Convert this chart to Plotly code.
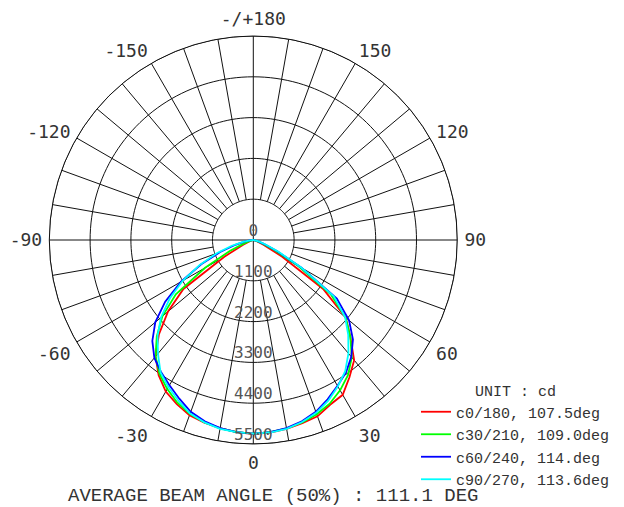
import plotly.graph_objects as go

# ---------------- data ----------------
GAMMA = [-90, -85, -80, -75, -70, -65, -60, -55, -50, -45, -40, -35, -30, -25, -20, -15, -10, -5,
         0, 5, 10, 15, 20, 25, 30, 35, 40, 45, 50, 55, 60, 65, 70, 75, 80, 85, 90]

C0_180 = [0, 0, 0, 30, 100, 300, 900, 2300, 3000, 3600, 4100, 4450, 4720, 4880, 5030, 5100, 5150, 5200,
          5230, 5210, 5170, 5110, 5060, 4900, 4820, 4520, 4230, 3700, 3250, 2300, 900, 300, 100, 30, 0, 0, 0]
C30_210 = [0, 0, 20, 80, 250, 700, 1500, 2550, 3200, 3680, 4100, 4410, 4640, 4840, 4990, 5090, 5160, 5200,
           5220, 5200, 5160, 5090, 5000, 4870, 4680, 4450, 4130, 3700, 3250, 2550, 1400, 600, 200, 60, 15, 0, 0]
C60_240 = [0, 70, 220, 500, 950, 1550, 2250, 2900, 3450, 3850, 4150, 4340, 4520, 4720, 4930, 5060, 5150, 5200,
           5220, 5200, 5150, 5060, 4930, 4740, 4540, 4360, 4110, 3800, 3370, 2750, 1500, 700, 300, 120, 40, 10, 0]
C90_270 = [0, 90, 280, 600, 1050, 1600, 2200, 2750, 3250, 3650, 4000, 4360, 4580, 4780, 4980, 5090, 5170, 5200,
           5220, 5210, 5170, 5080, 4960, 4780, 4560, 4320, 3990, 3620, 3230, 2650, 1500, 750, 350, 150, 50, 10, 0]

SERIES_NAMES = ["c0/180, 107.5deg", "c30/210, 109.0deg", "c60/240, 114.deg", "c90/270, 113.6deg"]
SERIES_VALUES = [C0_180, C30_210, C60_240, C90_270]
SERIES_COLORS = ["#ff0000", "#00ff00", "#0000ff", "#00ffff"]

RINGS = [0, 1100, 2200, 3300, 4400, 5500]
RING_LABELS = ["0", "1100", "2200", "3300", "4400", "5500"]
ANGLE_TICKS = [0, 30, 60, 90, 120, 150, 180, 210, 240, 270, 300, 330]
ANGLE_LABELS = ["0", "30", "60", "90", "120", "150", "-/+180", "-150", "-120", "-90", "-60", "-30"]
SPOKE_STEP = 10
UNIT_TEXT = "UNIT : cd"
FOOTER = "AVERAGE BEAM ANGLE (50%) : 111.1 DEG"

RMAX = RINGS[-1]
RIN = RINGS[1]

fig = go.Figure()

# ---------------- grid ----------------
ring_r, ring_t = [], []
for rv in RINGS[1:]:
    for a in range(0, 361, 2):
        ring_r.append(rv)
        ring_t.append(a)
    ring_r.append(None)
    ring_t.append(None)
fig.add_trace(go.Scatterpolar(r=ring_r, theta=ring_t, mode="lines",
                              line=dict(color="#111111", width=1), showlegend=False,
                              hoverinfo="skip", connectgaps=False))

sp_r, sp_t = [], []
for a in range(0, 360, SPOKE_STEP):
    start = RINGS[0] if a % 90 == 0 else RIN
    sp_r += [start, RMAX, None]
    sp_t += [a, a, None]
fig.add_trace(go.Scatterpolar(r=sp_r, theta=sp_t, mode="lines",
                              line=dict(color="#111111", width=1), showlegend=False,
                              hoverinfo="skip", connectgaps=False))

# ---------------- curves ----------------
for name, vals, col in zip(SERIES_NAMES, SERIES_VALUES, SERIES_COLORS):
    fig.add_trace(go.Scatterpolar(r=vals, theta=GAMMA, mode="lines", name=name,
                                  line=dict(color=col, width=1.8)))

# ---------------- radial labels ----------------
fig.add_trace(go.Scatterpolar(r=RINGS, theta=[0] * len(RINGS), mode="text", text=RING_LABELS,
                              textposition="top center",
                              textfont=dict(family="DejaVu Sans Mono", size=16, color="#555555"),
                              showlegend=False, hoverinfo="skip"))

# page body has an 8px margin, so the figure is slightly smaller and shifted
W, H = 616, 499
cx, cy, R = 245.3, 232.0, 204.0

fig.update_layout(
    width=W, height=H,
    margin=dict(l=0, r=0, t=0, b=0),
    paper_bgcolor="white",
    polar=dict(
        domain=dict(x=[(cx - R) / W, (cx + R) / W], y=[(H - cy - R) / H, (H - cy + R) / H]),
        bgcolor="white",
        radialaxis=dict(range=[0, RMAX], showgrid=False, showline=False,
                        showticklabels=False, ticks=""),
        angularaxis=dict(rotation=-90, direction="counterclockwise",
                         tickmode="array", tickvals=ANGLE_TICKS, ticktext=ANGLE_LABELS,
                         showgrid=False, showline=True, linecolor="#111111", linewidth=1,
                         ticks="outside", ticklen=3, tickcolor="rgba(0,0,0,0)",
                         tickfont=dict(family="DejaVu Sans Mono", size=18, color="#333333")),
    ),
    showlegend=True,
    legend=dict(x=408 / W, y=1 - 368 / H, xanchor="left", yanchor="top",
                bgcolor="rgba(0,0,0,0)", itemwidth=30, tracegroupgap=0,
                font=dict(family="Liberation Mono", size=15, color="#333333"),
                title=dict(text=UNIT_TEXT, side="top center",
                           font=dict(family="Liberation Mono", size=15, color="#333333"))),
    annotations=[dict(text=FOOTER, x=58 / W, y=11 / H, xref="paper", yref="paper",
                      xanchor="left", yanchor="middle", showarrow=False,
                      font=dict(family="Liberation Mono", size=19, color="#333333"))],
)

fig.write_html("out.html")
